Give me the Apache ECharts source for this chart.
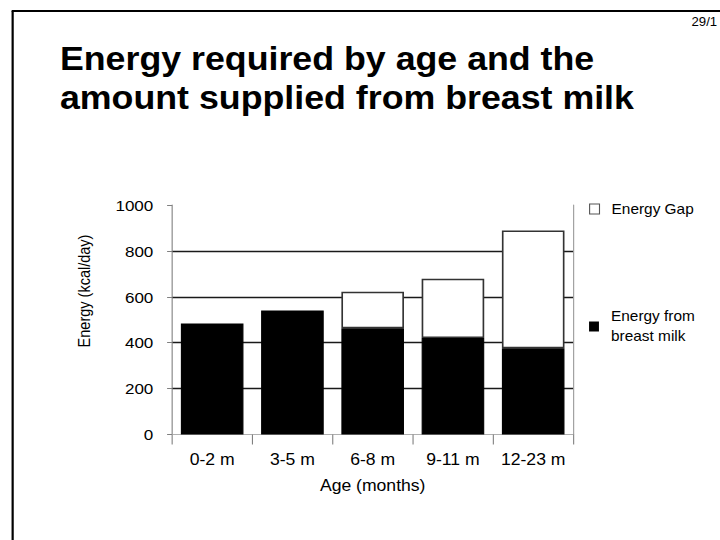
<!DOCTYPE html>
<html>
<head>
<meta charset="utf-8">
<script src="https://cdn.jsdelivr.net/npm/echarts@6/dist/echarts.min.js"></script>
<style>
  html, body { margin: 0; padding: 0; background: #fff; overflow: hidden; }
  /* slide is laid out at 655px wide and widened to 720px */
  #chart { width: 655px; height: 540px; transform: scaleX(1.1); transform-origin: 0 0; }
</style>
</head>
<body>
<div id="chart"></div>
<script>
// Age groups (months)
const categories = ['0-2 m', '3-5 m', '6-8 m', '9-11 m', '12-23 m'];
// Energy supplied from breast milk (kcal/day)
const breastMilk = [484, 540, 463, 420, 376];
// Remaining energy needed beyond breast milk (kcal/day)
const energyGap = [null, null, 159, 259, 513];
// Value axis ticks
const yMin = 0, yMax = 1000, yStep = 200;

const seriesNames = ['Energy from breast milk', 'Energy Gap'];
const titleLines = ['Energy required by age and the', 'amount supplied from breast milk'];
const slideNumber = '29/1';
const xTitle = 'Age (months)';
const yTitle = 'Energy (kcal/day)';

const FONT = '"Liberation Sans", Arial, Helvetica, sans-serif';
const AXIS_GREY = '#808080';

const chart = echarts.init(document.getElementById('chart'), null, { renderer: 'svg' });

chart.setOption({
  animation: false,
  backgroundColor: '#fff',
  textStyle: { fontFamily: FONT },
  title: {
    text: titleLines.join('\n'),
    left: 54.5,
    top: 39.5,
    padding: 0,
    textStyle: { fontFamily: FONT, fontSize: 32.5, fontWeight: 'bold', color: '#000', lineHeight: 39 }
  },
  legend: [
    {
      data: [{ name: seriesNames[1], icon: 'rect', itemStyle: { color: '#fff', borderColor: '#555', borderWidth: 1 } }],
      left: 535.5, top: 199, padding: 0,
      itemWidth: 9, itemHeight: 10, selectedMode: false,
      textStyle: { fontFamily: FONT, fontSize: 14, color: '#000', lineHeight: 20, padding: [0, 0, 0, 6] }
    },
    {
      data: [{ name: seriesNames[0], icon: 'rect', itemStyle: { color: '#000', borderWidth: 0 } }],
      left: 535.5, top: 296.5, padding: 0,
      itemWidth: 9, itemHeight: 10, selectedMode: false,
      formatter: n => n.replace(' breast', '\nbreast'),
      textStyle: { fontFamily: FONT, fontSize: 14, color: '#000', lineHeight: 20, padding: [20, 0, 0, 6] }
    }
  ],
  grid: { left: 156.4, top: 205, width: 364.8, height: 229.5, containLabel: false },
  xAxis: [
    {
      type: 'category', data: categories, position: 'bottom',
      axisLine: { show: true, lineStyle: { color: AXIS_GREY, width: 1 } },
      axisTick: { show: true, length: 10, interval: 0, lineStyle: { color: AXIS_GREY, width: 1 } },
      axisLabel: { fontFamily: FONT, fontSize: 16, color: '#000', margin: 17, interval: 0 },
      splitLine: { show: false },
      name: xTitle, nameLocation: 'middle', nameGap: 43,
      nameTextStyle: { fontFamily: FONT, fontSize: 16, color: '#000' }
    },
    {
      type: 'category', data: categories, position: 'top',
      axisLine: { show: true, lineStyle: { color: '#b0b0b0', width: 1 } },
      axisTick: { show: false }, axisLabel: { show: false }, splitLine: { show: false }
    }
  ],
  yAxis: [
    {
      type: 'value', min: yMin, max: yMax, interval: yStep,
      axisLine: { show: true, lineStyle: { color: AXIS_GREY, width: 1 } },
      axisTick: { show: true, length: 4.5, lineStyle: { color: AXIS_GREY, width: 1 } },
      axisLabel: { fontFamily: FONT, fontSize: 15.5, color: '#000', margin: 17, formatter: v => String(v) },
      splitLine: { show: true, showMinLine: false, showMaxLine: false, lineStyle: { color: '#1a1a1a', width: 1.4 } }
    },
    {
      type: 'value', position: 'right', min: yMin, max: yMax, interval: yStep,
      axisLine: { show: true, lineStyle: { color: '#9a9a9a', width: 1 } },
      axisTick: { show: false }, axisLabel: { show: false }, splitLine: { show: false }
    }
  ],
  series: [
    {
      name: seriesNames[0], type: 'bar', stack: 'energy', data: breastMilk,
      barCategoryGap: '22%',
      itemStyle: { color: '#000', borderColor: '#000', borderWidth: 1 }
    },
    {
      name: seriesNames[1], type: 'bar', stack: 'energy', data: energyGap,
      itemStyle: { color: '#fff', borderColor: '#333', borderWidth: 1.5 }
    }
  ],
  graphic: [
    { type: 'line', shape: { x1: 11.5, y1: 11, x2: 11.5, y2: 540 }, style: { stroke: '#000', lineWidth: 2 }, silent: true },
    { type: 'line', shape: { x1: 10.6, y1: 11, x2: 655, y2: 11 }, style: { stroke: '#000', lineWidth: 2 }, silent: true },
    {
      type: 'text', x: 652, y: 16, silent: true,
      style: { text: slideNumber, fontFamily: FONT, fontSize: 12, fill: '#000', align: 'right', verticalAlign: 'top', textAlign: 'right', textVerticalAlign: 'top' }
    },
    {
      type: 'text', x: 76.4, y: 291, rotation: Math.PI / 2, silent: true,
      style: { text: yTitle, fontFamily: FONT, fontSize: 14.5, fill: '#000', align: 'center', verticalAlign: 'middle', textAlign: 'center', textVerticalAlign: 'middle' }
    }
  ]
});
</script>
</body>
</html>
